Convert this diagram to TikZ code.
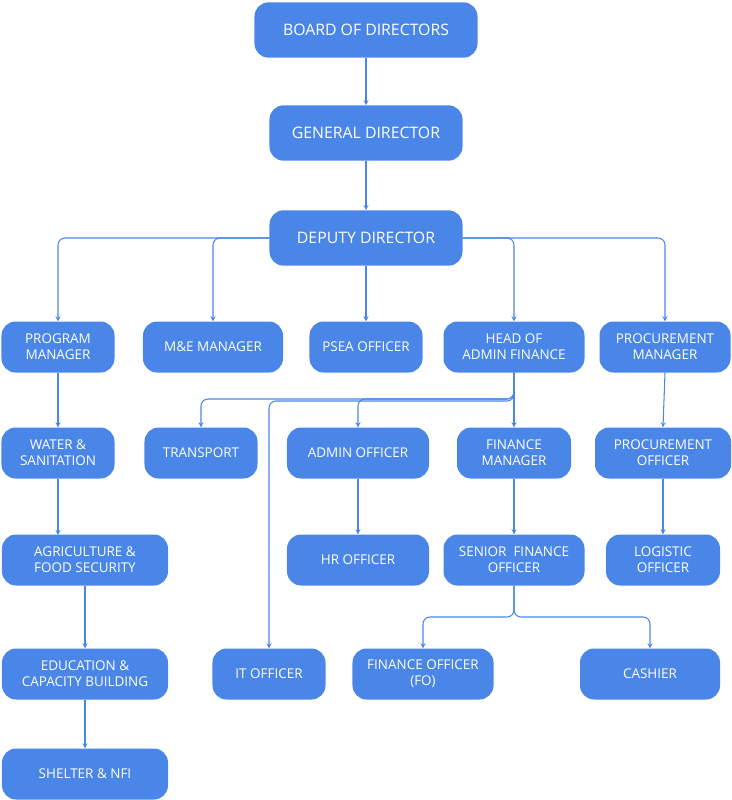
\documentclass[tikz,border=0pt]{standalone}
\usepackage{fontspec}
\setmainfont{Open Sans}
\usetikzlibrary{positioning}
\definecolor{boxblue}{HTML}{4A86E8}
\tikzset{
  unit/.style={draw=none, fill=boxblue, text=white, rounded corners=12pt, align=center,
    font=\fontsize{11.5}{13.5}\selectfont, inner sep=0pt, minimum height=1.53cm},
  bigunit/.style={unit, minimum height=1.66cm, font=\fontsize{13.5}{16}\selectfont},
  link/.style={draw=boxblue, line width=0.9pt, -stealth, rounded corners=6pt}
}
\begin{document}
\begin{tikzpicture}[x=0.03cm,y=-0.03cm]
  \useasboundingbox (0,0) rectangle (732,800);
  % top of the chart
  \node[bigunit, minimum width=6.69cm] (board) at (366,30) {BOARD OF DIRECTORS};
  \node[bigunit, minimum width=5.79cm] (gd) at (366,133) {GENERAL DIRECTOR};
  \node[bigunit, minimum width=5.79cm] (dd) at (366,238) {DEPUTY DIRECTOR};
  % second row
  \node[unit, minimum width=3.39cm] (pm) at (58,347) {PROGRAM\\MANAGER};
  \node[unit, minimum width=4.2cm] (me) at (213,347) {M\&E MANAGER};
  \node[unit, minimum width=3.39cm] (psea) at (366,347) {PSEA OFFICER};
  \node[unit, minimum width=4.23cm] (haf) at (514,347) {HEAD OF\\ADMIN FINANCE};
  \node[unit, minimum width=3.93cm] (procm) at (665,347) {PROCUREMENT\\MANAGER};
  % third row
  \node[unit, minimum width=3.39cm] (water) at (58,453) {WATER \&\\SANITATION};
  \node[unit, minimum width=3.39cm] (transport) at (201,453) {TRANSPORT};
  \node[unit, minimum width=4.26cm] (admin) at (358,453) {ADMIN OFFICER};
  \node[unit, minimum width=3.42cm] (fm) at (514,453) {FINANCE\\MANAGER};
  \node[unit, minimum width=4.08cm] (proco) at (663,453) {PROCUREMENT\\OFFICER};
  % fourth row
  \node[unit, minimum width=4.98cm] (agri) at (85,560) {AGRICULTURE \&\\FOOD SECURITY};
  \node[unit, minimum width=4.26cm] (hr) at (358,560) {HR OFFICER};
  \node[unit, minimum width=4.23cm] (sfo) at (514,560) {SENIOR\ \ FINANCE\\OFFICER};
  \node[unit, minimum width=3.42cm] (logi) at (663,560) {LOGISTIC\\OFFICER};
  % fifth row
  \node[unit, minimum width=4.98cm] (edu) at (85,674) {EDUCATION \&\\CAPACITY BUILDING};
  \node[unit, minimum width=3.39cm] (it) at (269,674) {IT OFFICER};
  \node[unit, minimum width=4.23cm] (fo) at (423,674) {FINANCE OFFICER\\(FO)};
  \node[unit, minimum width=4.2cm] (cashier) at (650,674) {CASHIER};
  \node[unit, minimum width=4.98cm] (shelter) at (85,774) {SHELTER \& NFI};

  \draw[link] (board) -- (gd);
  \draw[link] (gd) -- (dd);
  \draw[link] (dd.west) -| (pm.north);
  \draw[link] (dd.west) -| (me.north);
  \draw[link] (dd) -- (psea);
  \draw[link] (dd.east) -| (haf.north);
  \draw[link] (dd.east) -| (procm.north);
  \draw[link] (pm) -- (water);
  \draw[link] (water.south) -- (58,535);
  \draw[link] (agri) -- (edu);
  \draw[link] (edu) -- (shelter);
  \draw[link] (procm.south) -- (proco.north);
  \draw[link] (proco) -- (logi);
  \draw[link] (haf) -- (fm);
  \draw[link] (haf.south) |- (514,399) -| (transport.north);
  \draw[link] (haf.south) |- (514,399) -| (admin.north);
  \draw[link] (haf.south) |- (514,401) -| (it.north);
  \draw[link] (admin) -- (hr);
  \draw[link] (fm) -- (sfo);
  \draw[link] (sfo.south) |- (514,617) -| (fo.north);
  \draw[link] (sfo.south) |- (514,617) -| (cashier.north);
\end{tikzpicture}
\end{document}
